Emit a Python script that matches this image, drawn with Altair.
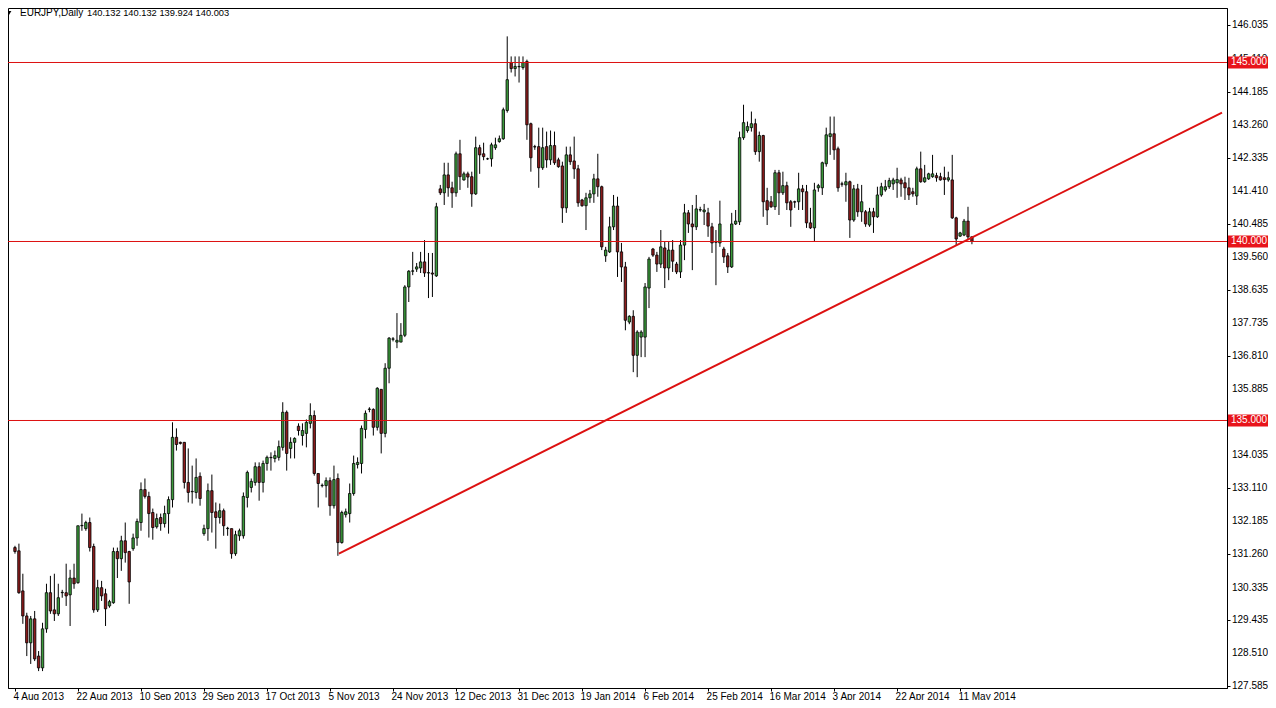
import json
import altair as alt
import pandas as pd

# ---------------- data ----------------
opens = [
    131.45, 131.36, 130.24, 129.54, 128.79, 129.46, 128.42, 128.09, 129.18, 130.19,
    129.71, 129.60, 130.19, 130.19, 130.13, 130.60, 130.47, 132.06, 131.98, 132.15,
    131.48, 129.71, 130.33, 130.16, 129.82, 129.91, 131.34, 131.14, 131.64, 131.34,
    131.42, 131.72, 132.15, 133.07, 132.88, 132.43, 132.03, 132.29, 132.12, 132.40,
    132.79, 134.53, 134.39, 134.39, 133.27, 133.01, 132.99, 133.44, 131.84, 131.98,
    133.04, 132.45, 132.29, 132.48, 131.98, 131.98, 131.28, 131.78, 131.78, 132.85,
    133.13, 133.27, 133.71, 133.27, 133.80, 133.97, 133.94, 133.97, 134.25, 135.23,
    134.22, 134.39, 134.84, 134.58, 134.64, 134.92, 135.14, 133.52, 133.18, 133.18,
    133.32, 132.62, 133.38, 131.59, 132.37, 132.40, 132.96, 133.77, 133.80, 134.75,
    135.31, 135.31, 134.81, 135.87, 134.64, 136.46, 137.27, 137.19, 137.19, 137.38,
    138.73, 139.17, 139.23, 139.26, 139.43, 139.12, 139.12, 139.04, 141.47, 141.36,
    141.86, 141.50, 141.36, 142.45, 141.72, 141.89, 141.81, 141.33, 142.62, 142.45,
    142.31, 142.31, 142.62, 142.79, 142.87, 143.66, 145.00, 144.83, 144.89, 144.86,
    145.03, 143.29, 142.65, 142.65, 142.06, 142.65, 142.28, 142.68, 142.28, 142.11,
    140.94, 142.42, 142.25, 142.03, 141.16, 141.00, 141.22, 141.33, 141.75, 141.53,
    139.60, 139.71, 140.41, 140.99, 139.71, 139.29, 137.75, 137.91, 136.82, 137.33,
    137.33, 138.70, 139.79, 139.62, 139.37, 139.82, 139.26, 139.76, 139.37, 139.15,
    139.90, 140.80, 140.49, 140.41, 140.88, 140.83, 140.80, 140.41, 139.99, 139.96,
    139.79, 139.60, 139.29, 140.49, 140.55, 142.90, 143.10, 143.18, 143.29, 142.51,
    142.96, 141.14, 141.11, 140.97, 141.92, 141.36, 141.56, 141.11, 141.11, 141.11,
    141.47, 141.39, 140.52, 140.38, 141.50, 141.50, 142.17, 142.93, 143.01, 142.59,
    141.61, 141.58, 141.67, 140.60, 141.47, 140.83, 140.83, 140.46, 140.83, 140.69,
    141.30, 141.44, 141.53, 141.61, 141.64, 141.72, 141.64, 141.50, 141.39, 141.27,
    142.03, 141.67, 141.75, 141.81, 141.84, 141.81, 141.78, 141.72, 141.72, 140.66,
    140.15, 140.18, 140.57, 140.132,
]
highs = [
    131.50, 131.56, 130.72, 129.63, 129.54, 129.68, 128.56, 129.35, 130.44, 130.66,
    130.72, 130.44, 130.27, 131.00, 130.83, 131.00, 132.06, 132.40, 132.20, 132.29,
    131.56, 130.55, 130.52, 130.30, 129.99, 131.45, 131.45, 131.78, 132.15, 131.36,
    131.84, 132.26, 133.27, 133.38, 133.01, 132.54, 132.40, 132.40, 132.62, 132.88,
    134.95, 134.78, 134.41, 134.40, 134.22, 133.74, 133.94, 133.55, 132.09, 133.24,
    133.49, 132.71, 132.68, 132.54, 132.03, 131.98, 131.92, 131.98, 132.99, 133.60,
    133.38, 133.83, 133.83, 133.88, 134.02, 134.11, 134.16, 134.44, 135.51, 135.28,
    134.53, 134.53, 134.92, 134.92, 135.03, 135.48, 135.28, 133.52, 133.24, 133.41,
    133.41, 133.74, 133.52, 132.48, 132.54, 133.24, 134.02, 133.97, 134.86, 135.28,
    135.37, 135.34, 135.93, 135.88, 136.60, 137.33, 137.33, 138.00, 137.72, 138.78,
    139.20, 139.71, 139.40, 139.71, 140.04, 139.68, 139.68, 141.08, 141.58, 142.20,
    142.20, 141.67, 142.51, 142.84, 141.95, 141.95, 141.95, 142.93, 142.70, 142.76,
    142.34, 142.76, 142.90, 142.96, 143.74, 145.73, 145.17, 145.17, 145.17, 145.17,
    145.08, 143.32, 142.70, 143.18, 143.18, 143.07, 143.10, 143.07, 142.34, 142.23,
    142.65, 142.65, 142.93, 142.14, 141.19, 141.36, 141.44, 141.89, 142.45, 141.56,
    139.85, 140.69, 141.30, 141.25, 139.96, 139.43, 137.94, 138.08, 137.52, 137.52,
    138.84, 139.57, 139.82, 139.71, 140.32, 139.99, 139.99, 140.04, 139.43, 140.04,
    141.05, 140.88, 141.02, 141.30, 140.97, 141.05, 140.94, 140.52, 140.32, 141.14,
    139.85, 139.68, 140.80, 140.88, 143.07, 143.82, 143.35, 143.63, 143.43, 143.07,
    142.98, 141.50, 141.27, 142.00, 142.00, 141.95, 141.67, 141.16, 141.14, 141.92,
    141.58, 141.58, 140.94, 141.64, 141.61, 142.23, 143.18, 143.49, 143.49, 142.65,
    141.67, 141.92, 141.70, 141.58, 141.61, 141.58, 140.88, 140.94, 140.94, 141.53,
    141.64, 141.72, 141.78, 141.78, 142.06, 141.78, 141.81, 141.78, 141.50, 142.09,
    142.51, 142.14, 141.92, 142.42, 141.92, 141.92, 142.09, 141.95, 142.42, 140.69,
    140.27, 140.63, 140.97, 140.132,
]
lows = [
    131.28, 130.16, 129.32, 128.42, 128.20, 128.28, 128.00, 128.00, 129.07, 129.60,
    129.40, 129.54, 130.05, 129.82, 129.26, 130.30, 130.44, 131.92, 131.92, 131.34,
    129.63, 129.65, 129.96, 129.26, 129.77, 129.88, 130.60, 130.80, 131.03, 129.88,
    131.36, 131.50, 131.92, 132.82, 131.73, 131.67, 131.98, 131.92, 132.01, 131.84,
    132.57, 134.16, 134.33, 133.10, 132.71, 132.68, 132.82, 132.62, 131.78, 131.64,
    131.87, 131.42, 132.12, 131.78, 131.78, 131.14, 131.22, 131.64, 131.70, 132.57,
    132.99, 133.18, 132.76, 132.99, 133.60, 133.60, 133.83, 133.88, 134.16, 133.60,
    133.94, 133.94, 134.58, 134.30, 134.25, 134.78, 133.46, 132.57, 133.13, 132.85,
    132.34, 132.54, 131.22, 131.56, 132.29, 132.15, 132.90, 133.66, 133.52, 134.50,
    135.23, 134.58, 134.72, 134.08, 134.53, 136.04, 137.21, 137.02, 137.19, 137.33,
    138.31, 139.06, 139.15, 139.12, 139.01, 138.42, 138.45, 139.01, 141.30, 141.02,
    141.25, 140.94, 141.25, 141.44, 141.70, 141.50, 140.97, 141.30, 141.89, 142.27,
    142.28, 142.09, 142.56, 142.76, 142.84, 143.60, 144.72, 144.61, 144.44, 144.80,
    142.84, 141.95, 142.56, 141.50, 142.00, 142.06, 142.14, 142.14, 142.06, 140.52,
    140.80, 142.14, 141.75, 140.97, 140.97, 140.32, 141.08, 141.08, 141.25, 139.76,
    139.43, 139.68, 140.32, 139.01, 138.87, 137.52, 137.69, 136.35, 136.21, 136.77,
    136.77, 138.14, 139.57, 139.15, 139.26, 138.70, 138.92, 139.15, 139.09, 138.98,
    139.48, 140.24, 139.20, 140.32, 140.83, 140.46, 140.13, 139.68, 138.78, 139.85,
    139.40, 139.12, 139.26, 140.46, 140.46, 142.84, 143.04, 143.07, 142.42, 142.23,
    140.69, 140.46, 140.94, 140.88, 140.74, 141.30, 140.88, 140.41, 140.94, 140.88,
    140.88, 140.38, 140.35, 139.99, 141.39, 141.30, 142.09, 142.42, 142.28, 141.39,
    141.53, 141.11, 140.10, 140.55, 140.69, 140.55, 140.41, 140.41, 140.24, 140.66,
    141.25, 141.39, 141.47, 141.44, 141.22, 141.25, 141.16, 141.16, 141.25, 141.02,
    141.64, 141.64, 141.72, 141.78, 141.67, 141.70, 141.30, 141.67, 140.63, 139.90,
    140.13, 140.15, 140.04, 139.924,
]
closes = [
    131.34, 130.19, 129.54, 128.79, 129.46, 128.34, 128.09, 129.18, 130.19, 129.68,
    129.60, 130.05, 130.20, 130.10, 130.60, 130.44, 132.06, 132.07, 132.15, 131.45,
    129.71, 130.33, 130.10, 129.74, 129.94, 131.34, 131.14, 131.64, 131.31, 130.49,
    131.72, 132.18, 133.07, 132.88, 132.40, 132.01, 132.26, 132.12, 132.40, 132.79,
    134.53, 134.33, 134.36, 133.27, 132.99, 133.02, 133.41, 132.82, 131.98, 133.04,
    132.43, 132.29, 132.48, 132.06, 131.99, 131.28, 131.81, 131.92, 132.88, 133.55,
    133.30, 133.71, 133.27, 133.80, 133.97, 133.96, 134.02, 134.27, 135.23, 134.08,
    134.39, 134.50, 134.72, 134.72, 134.95, 135.14, 133.52, 133.24, 133.19, 133.32,
    132.62, 133.35, 131.59, 132.43, 132.45, 132.96, 133.80, 133.83, 134.78, 135.20,
    135.32, 134.81, 135.90, 134.64, 136.46, 137.30, 137.28, 137.24, 137.38, 138.73,
    139.17, 139.18, 139.29, 139.43, 139.12, 139.13, 139.09, 140.97, 141.36, 141.86,
    141.50, 141.36, 142.45, 141.81, 141.89, 141.80, 141.33, 142.62, 142.42, 142.37,
    142.31, 142.70, 142.70, 142.87, 143.68, 144.52, 144.83, 144.89, 144.88, 145.00,
    143.26, 142.34, 142.64, 142.06, 142.62, 142.28, 142.68, 142.20, 142.09, 140.94,
    142.42, 142.23, 142.03, 141.08, 141.00, 141.22, 141.33, 141.75, 141.53, 139.85,
    139.76, 140.41, 140.99, 139.71, 139.29, 137.80, 137.91, 136.82, 137.47, 137.47,
    138.73, 139.51, 139.62, 139.37, 139.85, 139.26, 139.76, 139.45, 139.15, 139.90,
    140.80, 140.49, 140.41, 140.91, 140.89, 140.88, 140.43, 139.96, 139.98, 140.49,
    139.57, 139.29, 140.49, 140.57, 142.90, 143.32, 143.21, 143.29, 142.51, 142.96,
    141.11, 140.88, 140.97, 141.92, 141.36, 141.56, 141.08, 140.88, 141.10, 141.47,
    141.39, 140.52, 140.38, 141.44, 141.56, 142.20, 142.98, 143.01, 142.56, 141.50,
    141.60, 141.67, 140.60, 141.47, 140.83, 141.11, 140.49, 140.83, 140.69, 141.30,
    141.53, 141.53, 141.70, 141.72, 141.73, 141.61, 141.50, 141.30, 141.33, 142.03,
    141.67, 141.78, 141.89, 141.89, 141.78, 141.72, 141.73, 141.78, 140.66, 140.07,
    140.24, 140.57, 140.13, 140.003,
]

date_tick_bars = [0, 16, 32, 48, 64, 80, 96, 112, 128, 144, 160, 176, 192, 208, 224, 240]
date_labels = [
    "4 Aug 2013", "22 Aug 2013", "10 Sep 2013", "29 Sep 2013", "17 Oct 2013",
    "5 Nov 2013", "24 Nov 2013", "12 Dec 2013", "31 Dec 2013", "19 Jan 2014",
    "6 Feb 2014", "25 Feb 2014", "16 Mar 2014", "3 Apr 2014", "22 Apr 2014",
    "11 May 2014",
]
price_ticks = [146.035, 145.110, 144.185, 143.260, 142.335, 141.410, 140.485,
               139.560, 138.635, 137.735, 136.810, 135.885, 134.960, 134.035,
               133.110, 132.185, 131.260, 130.335, 129.435, 128.510, 127.585]
levels = [145.0, 140.0, 135.0]
trend_bars = [82.25, 306.5]
trend_prices = [131.28, 143.60]
symbol_text = "EURJPY,Daily"
ohlc_text = "140.132 140.132 139.924 140.003"

# ---------------- styling / layout ----------------
UP = "#3b9b3b"
DOWN = "#8e1c1c"
LINE_RED = "#dd1111"
BOX_RED = "#e8141b"
FONT = "Liberation Sans"
PLOT_W, PLOT_H = 1219, 680

candles = pd.DataFrame({
    "bar": list(range(len(opens))),
    "open": opens, "high": highs, "low": lows, "close": closes,
})
candles["dir"] = ["up" if c >= o else "down" for o, c in zip(opens, closes)]

xscale = alt.Scale(domain=[-0.5, 306.5], nice=False, zero=False)
yscale = alt.Scale(domain=[127.5279, 146.5223], nice=False, zero=False)

label_expr = "{}[indexof({}, datum.value)]".format(json.dumps(date_labels), json.dumps(date_tick_bars))

x_axis = alt.Axis(values=date_tick_bars, labelExpr=label_expr, orient="bottom",
                  labelAlign="left", labelOffset=-2, labelPadding=0, tickSize=3,
                  tickColor="#000", domainColor="#000", labelColor="#000",
                  labelFont=FONT, labelFontSize=10, labelOverlap=False,
                  labelFlush=False, grid=False, title=None, labelBaseline="top")
y_axis = alt.Axis(values=price_ticks, labels=False, orient="right", tickSize=3,
                  tickColor="#000", domainColor="#000", grid=False, title=None)

base = alt.Chart(candles)

wicks = base.mark_rule(color="#000", strokeWidth=1).encode(
    x=alt.X("bar:Q", scale=xscale, axis=x_axis),
    y=alt.Y("low:Q", scale=yscale, axis=y_axis),
    y2="high:Q",
)
bodies = base.mark_bar(width=2.4, stroke="#000", strokeWidth=0.8, orient="vertical").encode(
    x=alt.X("bar:Q", scale=xscale),
    y=alt.Y("open:Q", scale=yscale),
    y2="close:Q",
    color=alt.Color("dir:N", scale=alt.Scale(domain=["up", "down"], range=[UP, DOWN]), legend=None),
)

# price labels of the right-hand axis
pt = pd.DataFrame({"tick": price_ticks})
price_labels = alt.Chart(pt).mark_text(align="left", baseline="middle", font=FONT,
                                       fontSize=10, color="#000").encode(
    y=alt.Y("tick:Q", scale=yscale),
    x=alt.value(PLOT_W + 5),
    text=alt.Text("tick:Q", format=".3f"),
)

lv = pd.DataFrame({"level": levels})
level_lines = alt.Chart(lv).mark_rule(color=LINE_RED, strokeWidth=1).encode(
    y=alt.Y("level:Q", scale=yscale)
)
level_boxes = alt.Chart(lv).mark_rect(color=BOX_RED, yOffset=-6, y2Offset=6).encode(
    y=alt.Y("level:Q", scale=yscale), y2="level:Q",
    x=alt.value(PLOT_W + 1), x2=alt.value(PLOT_W + 41),
)
level_text = alt.Chart(lv).mark_text(color="#fff", align="left", baseline="middle",
                                     font=FONT, fontSize=10).encode(
    y=alt.Y("level:Q", scale=yscale),
    x=alt.value(PLOT_W + 4),
    text=alt.Text("level:Q", format=".3f"),
)

tr = pd.DataFrame({"bar": trend_bars, "price": trend_prices})
trend = alt.Chart(tr).mark_line(color=LINE_RED, strokeWidth=2).encode(
    x=alt.X("bar:Q", scale=xscale),
    y=alt.Y("price:Q", scale=yscale)
)

hdr = pd.DataFrame({"sym": [symbol_text], "vals": [ohlc_text]})
tri = alt.Chart(hdr).mark_point(shape="triangle-down", filled=True, color="#000",
                                size=22, opacity=1).encode(
    x=alt.value(1), y=alt.value(5))
sym = alt.Chart(hdr).mark_text(align="left", baseline="middle", font=FONT,
                               fontSize=10, color="#000").encode(
    x=alt.value(12), y=alt.value(5), text="sym:N")
vals = alt.Chart(hdr).mark_text(align="left", baseline="middle", font=FONT,
                                fontSize=9.3, color="#000").encode(
    x=alt.value(79), y=alt.value(5), text="vals:N")

chart = alt.layer(
    wicks, bodies, price_labels, level_lines, trend, level_boxes, level_text,
    tri, sym, vals
).properties(
    width=PLOT_W, height=PLOT_H,
    padding={"left": 0, "top": 0, "right": 41, "bottom": 12},
    autosize=alt.AutoSizeParams(type="none"),
    background="#ffffff",
).configure_view(
    stroke="#000", strokeWidth=1
)

chart.save("out.html", embed_options={"renderer": "svg", "actions": False})
